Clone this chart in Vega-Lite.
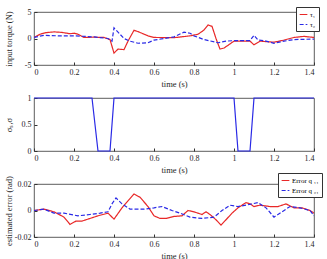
{
  "$schema": "https://vega.github.io/schema/vega-lite/v6.json",
  "padding": {"left": 3, "top": 6, "right": 0, "bottom": 0},
  "background": "white",
  "bounds": "flush",
  "spacing": 33,
  "config": {
    "font": "Liberation Serif",
    "view": {"stroke": "#333333", "strokeWidth": 0.8},
    "axis": {
      "grid": false,
      "domain": false,
      "tickSize": -3,
      "tickColor": "#333333",
      "labelPadding": 6,
      "labelFont": "Liberation Serif",
      "labelFontSize": 8,
      "labelColor": "#262626",
      "titleFont": "Liberation Serif",
      "titleFontSize": 8.5,
      "titleFontWeight": "normal",
      "titleColor": "#262626"
    },
    "legend": {
      "labelFont": "Liberation Serif",
      "labelFontSize": 7,
      "strokeColor": "#333333",
      "fillColor": "white",
      "padding": 3,
      "rowPadding": 2,
      "symbolType": "stroke",
      "symbolSize": 60,
      "symbolStrokeWidth": 1.2,
      "labelOffset": 2
    }
  },
  "datasets": {
    "torque": [
      {"t": 0, "v": 0.2, "s": "τ₁"},
      {"t": 0.03, "v": 0.8, "s": "τ₁"},
      {"t": 0.06, "v": 1.1, "s": "τ₁"},
      {"t": 0.1, "v": 1.25, "s": "τ₁"},
      {"t": 0.14, "v": 1.15, "s": "τ₁"},
      {"t": 0.18, "v": 0.9, "s": "τ₁"},
      {"t": 0.2, "v": 1.0, "s": "τ₁"},
      {"t": 0.22, "v": 0.8, "s": "τ₁"},
      {"t": 0.25, "v": 0.2, "s": "τ₁"},
      {"t": 0.3, "v": 0.25, "s": "τ₁"},
      {"t": 0.35, "v": 0.2, "s": "τ₁"},
      {"t": 0.38, "v": -0.2, "s": "τ₁"},
      {"t": 0.4, "v": -2.75, "s": "τ₁"},
      {"t": 0.42, "v": -2.0, "s": "τ₁"},
      {"t": 0.45, "v": -2.1, "s": "τ₁"},
      {"t": 0.47, "v": -0.5, "s": "τ₁"},
      {"t": 0.5, "v": 1.55, "s": "τ₁"},
      {"t": 0.52, "v": 1.3, "s": "τ₁"},
      {"t": 0.57, "v": 0.5, "s": "τ₁"},
      {"t": 0.6, "v": 0.2, "s": "τ₁"},
      {"t": 0.7, "v": 0.15, "s": "τ₁"},
      {"t": 0.78, "v": 0.5, "s": "τ₁"},
      {"t": 0.82, "v": 0.8, "s": "τ₁"},
      {"t": 0.85, "v": 1.6, "s": "τ₁"},
      {"t": 0.87, "v": 2.55, "s": "τ₁"},
      {"t": 0.89, "v": 2.3, "s": "τ₁"},
      {"t": 0.91, "v": 0.0, "s": "τ₁"},
      {"t": 0.93, "v": -2.0, "s": "τ₁"},
      {"t": 0.95, "v": -1.8, "s": "τ₁"},
      {"t": 1.0, "v": -0.5, "s": "τ₁"},
      {"t": 1.08, "v": -0.5, "s": "τ₁"},
      {"t": 1.1, "v": -1.2, "s": "τ₁"},
      {"t": 1.13, "v": -0.5, "s": "τ₁"},
      {"t": 1.2, "v": -0.7, "s": "τ₁"},
      {"t": 1.25, "v": -0.3, "s": "τ₁"},
      {"t": 1.3, "v": 0.2, "s": "τ₁"},
      {"t": 1.35, "v": 0.4, "s": "τ₁"},
      {"t": 1.4, "v": 0.2, "s": "τ₁"},
      {"t": 0, "v": 0.2, "s": "τ₂"},
      {"t": 0.05, "v": 0.6, "s": "τ₂"},
      {"t": 0.12, "v": 0.5, "s": "τ₂"},
      {"t": 0.2, "v": 0.5, "s": "τ₂"},
      {"t": 0.3, "v": 0.3, "s": "τ₂"},
      {"t": 0.37, "v": 0.0, "s": "τ₂"},
      {"t": 0.39, "v": -0.5, "s": "τ₂"},
      {"t": 0.4, "v": 2.0, "s": "τ₂"},
      {"t": 0.42, "v": 1.2, "s": "τ₂"},
      {"t": 0.45, "v": 0.0, "s": "τ₂"},
      {"t": 0.48, "v": -0.5, "s": "τ₂"},
      {"t": 0.52, "v": -0.9, "s": "τ₂"},
      {"t": 0.57, "v": -0.8, "s": "τ₂"},
      {"t": 0.6, "v": -0.3, "s": "τ₂"},
      {"t": 0.65, "v": 0.0, "s": "τ₂"},
      {"t": 0.7, "v": 0.3, "s": "τ₂"},
      {"t": 0.75, "v": 1.2, "s": "τ₂"},
      {"t": 0.78, "v": 1.0, "s": "τ₂"},
      {"t": 0.8, "v": 0.5, "s": "τ₂"},
      {"t": 0.85, "v": -0.2, "s": "τ₂"},
      {"t": 0.92, "v": -0.8, "s": "τ₂"},
      {"t": 0.96, "v": -0.5, "s": "τ₂"},
      {"t": 1.0, "v": -0.4, "s": "τ₂"},
      {"t": 1.08, "v": -0.4, "s": "τ₂"},
      {"t": 1.1, "v": 0.6, "s": "τ₂"},
      {"t": 1.12, "v": -0.3, "s": "τ₂"},
      {"t": 1.15, "v": -0.4, "s": "τ₂"},
      {"t": 1.2, "v": -0.9, "s": "τ₂"},
      {"t": 1.25, "v": -0.5, "s": "τ₂"},
      {"t": 1.3, "v": -0.2, "s": "τ₂"},
      {"t": 1.4, "v": -0.1, "s": "τ₂"}
    ],
    "sigma": [
      {"t": 0, "v": 1},
      {"t": 0.29, "v": 1},
      {"t": 0.32, "v": 0},
      {"t": 0.38, "v": 0},
      {"t": 0.4, "v": 1},
      {"t": 1.0, "v": 1},
      {"t": 1.02, "v": 0},
      {"t": 1.08, "v": 0},
      {"t": 1.1, "v": 1},
      {"t": 1.4, "v": 1}
    ],
    "err": [
      {"t": 0, "v": 0.0, "s": "Error q ₁₁"},
      {"t": 0.05, "v": 0.001, "s": "Error q ₁₁"},
      {"t": 0.1, "v": -0.001, "s": "Error q ₁₁"},
      {"t": 0.15, "v": -0.005, "s": "Error q ₁₁"},
      {"t": 0.18, "v": -0.0105, "s": "Error q ₁₁"},
      {"t": 0.21, "v": -0.008, "s": "Error q ₁₁"},
      {"t": 0.24, "v": -0.008, "s": "Error q ₁₁"},
      {"t": 0.28, "v": -0.006, "s": "Error q ₁₁"},
      {"t": 0.32, "v": -0.004, "s": "Error q ₁₁"},
      {"t": 0.37, "v": -0.002, "s": "Error q ₁₁"},
      {"t": 0.4, "v": -0.0065, "s": "Error q ₁₁"},
      {"t": 0.44, "v": 0.002, "s": "Error q ₁₁"},
      {"t": 0.48, "v": 0.009, "s": "Error q ₁₁"},
      {"t": 0.5, "v": 0.0125, "s": "Error q ₁₁"},
      {"t": 0.53, "v": 0.01, "s": "Error q ₁₁"},
      {"t": 0.57, "v": 0.003, "s": "Error q ₁₁"},
      {"t": 0.6, "v": -0.004, "s": "Error q ₁₁"},
      {"t": 0.63, "v": -0.006, "s": "Error q ₁₁"},
      {"t": 0.66, "v": -0.006, "s": "Error q ₁₁"},
      {"t": 0.7, "v": -0.0045, "s": "Error q ₁₁"},
      {"t": 0.74, "v": -0.004, "s": "Error q ₁₁"},
      {"t": 0.77, "v": 0.0, "s": "Error q ₁₁"},
      {"t": 0.8, "v": -0.001, "s": "Error q ₁₁"},
      {"t": 0.84, "v": -0.003, "s": "Error q ₁₁"},
      {"t": 0.86, "v": -0.001, "s": "Error q ₁₁"},
      {"t": 0.88, "v": -0.003, "s": "Error q ₁₁"},
      {"t": 0.91, "v": -0.007, "s": "Error q ₁₁"},
      {"t": 0.935, "v": -0.011, "s": "Error q ₁₁"},
      {"t": 0.96, "v": -0.007, "s": "Error q ₁₁"},
      {"t": 0.99, "v": -0.002, "s": "Error q ₁₁"},
      {"t": 1.02, "v": 0.002, "s": "Error q ₁₁"},
      {"t": 1.06, "v": 0.006, "s": "Error q ₁₁"},
      {"t": 1.08, "v": 0.005, "s": "Error q ₁₁"},
      {"t": 1.1, "v": 0.003, "s": "Error q ₁₁"},
      {"t": 1.13, "v": 0.004, "s": "Error q ₁₁"},
      {"t": 1.18, "v": 0.003, "s": "Error q ₁₁"},
      {"t": 1.22, "v": 0.003, "s": "Error q ₁₁"},
      {"t": 1.26, "v": 0.005, "s": "Error q ₁₁"},
      {"t": 1.3, "v": 0.002, "s": "Error q ₁₁"},
      {"t": 1.34, "v": 0.002, "s": "Error q ₁₁"},
      {"t": 1.38, "v": 0.0, "s": "Error q ₁₁"},
      {"t": 1.4, "v": -0.002, "s": "Error q ₁₁"},
      {"t": 0, "v": 0.0, "s": "Error q ₂₁"},
      {"t": 0.05, "v": 0.001, "s": "Error q ₂₁"},
      {"t": 0.1, "v": -0.002, "s": "Error q ₂₁"},
      {"t": 0.15, "v": -0.002, "s": "Error q ₂₁"},
      {"t": 0.22, "v": -0.004, "s": "Error q ₂₁"},
      {"t": 0.28, "v": -0.003, "s": "Error q ₂₁"},
      {"t": 0.33, "v": -0.002, "s": "Error q ₂₁"},
      {"t": 0.37, "v": -0.001, "s": "Error q ₂₁"},
      {"t": 0.39, "v": 0.005, "s": "Error q ₂₁"},
      {"t": 0.41, "v": 0.0095, "s": "Error q ₂₁"},
      {"t": 0.44, "v": 0.005, "s": "Error q ₂₁"},
      {"t": 0.48, "v": 0.001, "s": "Error q ₂₁"},
      {"t": 0.55, "v": 0.001, "s": "Error q ₂₁"},
      {"t": 0.6, "v": 0.002, "s": "Error q ₂₁"},
      {"t": 0.64, "v": 0.003, "s": "Error q ₂₁"},
      {"t": 0.69, "v": 0.0, "s": "Error q ₂₁"},
      {"t": 0.73, "v": -0.002, "s": "Error q ₂₁"},
      {"t": 0.78, "v": -0.005, "s": "Error q ₂₁"},
      {"t": 0.84, "v": -0.006, "s": "Error q ₂₁"},
      {"t": 0.9, "v": -0.005, "s": "Error q ₂₁"},
      {"t": 0.94, "v": 0.0, "s": "Error q ₂₁"},
      {"t": 0.98, "v": 0.004, "s": "Error q ₂₁"},
      {"t": 1.02, "v": 0.003, "s": "Error q ₂₁"},
      {"t": 1.06, "v": 0.004, "s": "Error q ₂₁"},
      {"t": 1.12, "v": 0.006, "s": "Error q ₂₁"},
      {"t": 1.16, "v": 0.002, "s": "Error q ₂₁"},
      {"t": 1.2, "v": -0.005, "s": "Error q ₂₁"},
      {"t": 1.24, "v": -0.001, "s": "Error q ₂₁"},
      {"t": 1.28, "v": 0.003, "s": "Error q ₂₁"},
      {"t": 1.33, "v": 0.002, "s": "Error q ₂₁"},
      {"t": 1.38, "v": 0.0, "s": "Error q ₂₁"},
      {"t": 1.4, "v": -0.004, "s": "Error q ₂₁"}
    ]
  },
  "vconcat": [
    {
      "width": 280,
      "height": 53,
      "data": {"name": "torque"},
      "mark": {"type": "line", "strokeWidth": 1.2, "clip": true},
      "encoding": {
        "x": {"field": "t", "type": "quantitative", "title": "time (s)",
          "scale": {"domain": [0, 1.4], "nice": false},
          "axis": {"values": [0, 0.2, 0.4, 0.6, 0.8, 1, 1.2, 1.4], "labelExpr": "format(datum.value, '~g')", "titlePadding": 3}},
        "y": {"field": "v", "type": "quantitative", "title": "input torque (N)",
          "scale": {"domain": [-5, 5], "nice": false},
          "axis": {"values": [-5, 0, 5], "labelExpr": "datum.value < 0 ? '-' + format(-datum.value, '~g') : format(datum.value, '~g')", "titleX": -21}},
        "color": {"field": "s", "type": "nominal",
          "scale": {"domain": ["τ₁", "τ₂"], "range": ["#e82828", "#2a2ae6"]},
          "legend": {"title": null, "orient": "none", "legendX": 262, "legendY": -5}},
        "strokeDash": {"field": "s", "type": "nominal",
          "scale": {"domain": ["τ₁", "τ₂"], "range": [[1, 0], [4, 2]]},
          "legend": {"title": null, "orient": "none", "legendX": 262, "legendY": -5}}
      }
    },
    {
      "width": 280,
      "height": 53,
      "data": {"name": "sigma"},
      "mark": {"type": "line", "strokeWidth": 1.2, "color": "#2a2ae6", "clip": false},
      "encoding": {
        "x": {"field": "t", "type": "quantitative", "title": "time (s)",
          "scale": {"domain": [0, 1.4], "nice": false},
          "axis": {"values": [0, 0.2, 0.4, 0.6, 0.8, 1, 1.2, 1.4], "labelExpr": "format(datum.value, '~g')", "titlePadding": 3}},
        "y": {"field": "v", "type": "quantitative", "title": "σₛ,σ",
          "scale": {"domain": [0, 1], "nice": false},
          "axis": {"values": [0, 0.5, 1], "labelExpr": "format(datum.value, '~g')", "titleX": -21}}
      }
    },
    {
      "width": 280,
      "height": 53,
      "data": {"name": "err"},
      "mark": {"type": "line", "strokeWidth": 1.2, "clip": true},
      "encoding": {
        "x": {"field": "t", "type": "quantitative", "title": "time (s)",
          "scale": {"domain": [0, 1.4], "nice": false},
          "axis": {"values": [0, 0.2, 0.4, 0.6, 0.8, 1, 1.2, 1.4], "labelExpr": "format(datum.value, '~g')", "titlePadding": 3}},
        "y": {"field": "v", "type": "quantitative", "title": "estimated error (rad)",
          "scale": {"domain": [-0.02, 0.02], "nice": false},
          "axis": {"values": [-0.02, 0, 0.02], "labelExpr": "datum.value < 0 ? '-' + format(-datum.value, '~g') : format(datum.value, '~g')", "titleX": -21}},
        "color": {"field": "s", "type": "nominal",
          "scale": {"domain": ["Error q ₁₁", "Error q ₂₁"], "range": ["#e82828", "#2a2ae6"]},
          "legend": {"title": null, "orient": "none", "legendX": 244, "legendY": -11}},
        "strokeDash": {"field": "s", "type": "nominal",
          "scale": {"domain": ["Error q ₁₁", "Error q ₂₁"], "range": [[1, 0], [4, 2]]},
          "legend": {"title": null, "orient": "none", "legendX": 244, "legendY": -11}}
      }
    }
  ],
  "resolve": {"scale": {"color": "independent", "strokeDash": "independent"}}
}
